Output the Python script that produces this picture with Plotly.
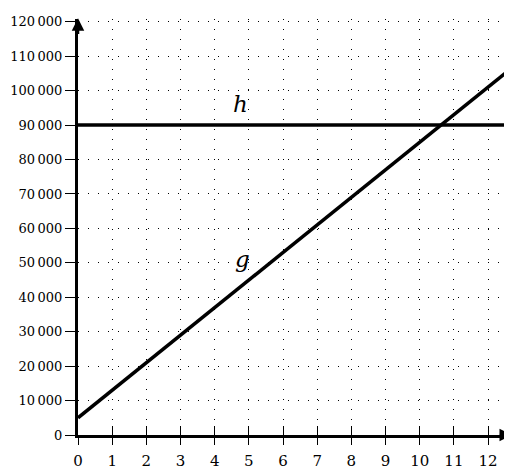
import plotly.graph_objects as go

# data
x_vals = [0, 12.7]
g_vals = [5000, 106600]          # g(x) = 8000x + 5000
h_vals = [90000, 90000]          # h(x) = 90000
x_ticks = list(range(0, 13))
y_ticks = list(range(0, 120001, 10000))
y_tick_text = ['{:,}'.format(v).replace(',', '\u2009') for v in y_ticks]
labels = [('h', 4.75, 96000), ('g', 4.8, 51000)]

FONT = 'DejaVu Serif'

fig = go.Figure()
fig.add_trace(go.Scatter(x=x_vals, y=h_vals, mode='lines',
                         line=dict(color='black', width=3.5), showlegend=False))
fig.add_trace(go.Scatter(x=x_vals, y=g_vals, mode='lines',
                         line=dict(color='black', width=3.5), showlegend=False))
# invisible trace on second x axis so it shows up
fig.add_trace(go.Scatter(x=x_vals, y=h_vals, xaxis='x2', mode='lines',
                         line=dict(width=0), hoverinfo='skip', showlegend=False))

for txt, lx, ly in labels:
    fig.add_annotation(x=lx, y=ly, text='<i>%s</i>' % txt, showarrow=False,
                       font=dict(family=FONT, size=23, color='black'))

# axis arrows
fig.add_annotation(x=12.7, y=0, ax=12.3, ay=0, xref='x', yref='y', axref='x', ayref='y',
                   showarrow=True, arrowhead=2, arrowsize=1, arrowwidth=2.5,
                   arrowcolor='black', text='')
fig.add_annotation(x=0, y=121000, ax=0, ay=116000, xref='x', yref='y', axref='x', ayref='y',
                   showarrow=True, arrowhead=2, arrowsize=1, arrowwidth=2.5,
                   arrowcolor='black', text='')

grid = dict(showgrid=True, gridcolor='black', gridwidth=1.4, griddash='1.4px,8.6px')

fig.update_layout(
    width=512, height=472,
    margin=dict(l=70, r=8, t=11, b=45),
    plot_bgcolor='white', paper_bgcolor='white',
    font=dict(family=FONT, size=13, color='black'),
    xaxis=dict(range=[0, 12.7], tickvals=x_ticks, ticks='outside', ticklen=7,
               tickwidth=1, tickcolor='black', zeroline=False, automargin=False,
               showline=True, linecolor='black', linewidth=3,
               ticklabelstandoff=3,
               tickfont=dict(family=FONT, size=15), **grid),
    xaxis2=dict(range=[0, 12.7], overlaying='x', anchor='y', side='bottom',
                tickvals=x_ticks, ticks='inside', ticklen=9, tickwidth=1,
                tickcolor='black', showticklabels=False, showgrid=False,
                zeroline=False, showline=False, automargin=False),
    yaxis=dict(range=[0, 120800], tickvals=y_ticks, ticktext=y_tick_text,
               ticks='outside', ticklen=10, tickwidth=1, tickcolor='black',
               zeroline=False, showline=True, linecolor='black', linewidth=3,
               automargin=False,
               tickfont=dict(family=FONT, size=13), **grid),
)

fig.write_html("out.html")
